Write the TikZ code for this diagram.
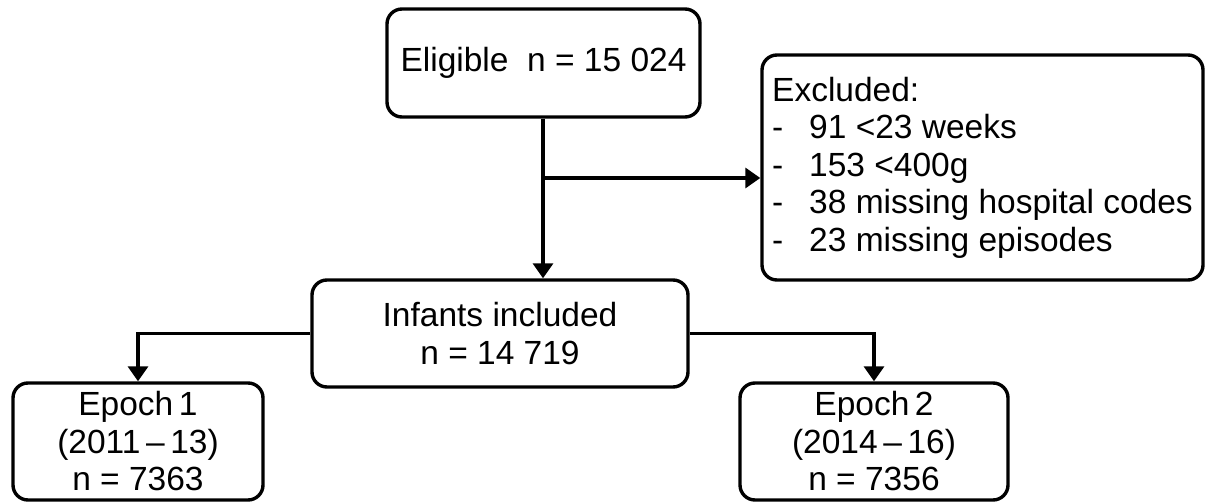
\documentclass[tikz,border=0pt]{standalone}
\usepackage{fontspec}
\setmainfont{Liberation Sans}
\usepackage{xcolor}
\usetikzlibrary{arrows.meta}

\begin{document}
\begin{tikzpicture}[x=1pt,y=-1pt]
        \tikzstyle{every node}+=[font=\fontsize{33.5}{37.5}\selectfont]
        \tikzstyle{box}=[draw=black, line width=3.4pt, rounded corners=15pt, align=center, inner sep=0pt]
        \tikzstyle{arr}=[draw=black, line width=3.4pt, -{Triangle[width=20pt,length=15pt]}]
        \useasboundingbox (0,0) rectangle (1205,502);
        \node [box, minimum width=441pt, minimum height=225pt, align=left] (excluded) at (982.5,167.5)
            {Excluded:\\
             \makebox[37pt][l]{-}91 <23 weeks\\
             \makebox[37pt][l]{-}153 <400g\\
             \makebox[37pt][l]{-}38 missing hospital codes\\
             \makebox[37pt][l]{-}23 missing episodes};
        \node [box, minimum width=313pt, minimum height=108pt] (eligible) at (543.5,63) {Eligible\ \ n = 15 024};
        \node [box, minimum width=376pt, minimum height=107pt] (infants) at (500,333.5) {Infants included\\n = 14 719};
        \node [box, minimum width=250pt, minimum height=117pt] (epochA) at (138,441.5) {Epoch\,1\\(2011\,--\,13)\\n = 7363};
        \node [box, minimum width=268pt, minimum height=117pt] (epochB) at (874,441.5) {Epoch\,2\\(2014\,--\,16)\\n = 7356};
        \coordinate (split) at (543,178);
        \draw [arr] (eligible.south -| split) -- (split |- infants.north);
        \draw [arr] (split) -- (split -| excluded.west);
        \draw [arr] (infants.west) -| (epochA.north);
        \draw [arr] (infants.east) -| (epochB.north);
\end{tikzpicture}
\end{document}
